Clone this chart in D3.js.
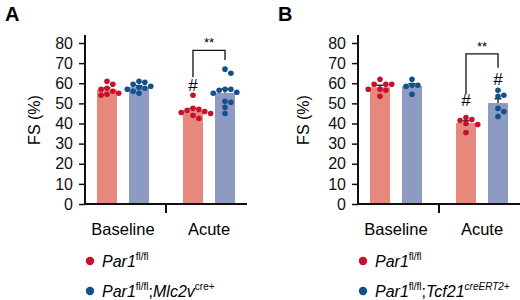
<!DOCTYPE html>
<html>
<head>
<meta charset="utf-8">
<script src="https://cdn.jsdelivr.net/npm/d3@7"></script>
<style>
  body { margin: 0; background: #fff; }
  text { font-family: Helvetica, Arial, "Liberation Sans", sans-serif; }
</style>
</head>
<body>
<script>
"use strict";
let width = 520;
let height = 300;

// categories
let conditions = ["Baseline", "Acute"];
let genotypes = ["ctrl", "ko"];
let yTicks = [0, 10, 20, 30, 40, 50, 60, 70, 80];

// FS (%) per mouse, panel A
let aBaselineCtrl = [61, 59.5, 57.5, 57, 56, 55, 54.5, 54];
let aBaselineKO = [61, 60.5, 59.5, 58.5, 58, 57.5, 57, 56, 55];
let aAcuteCtrl = [54, 47.5, 47, 46.5, 46, 45.5, 45, 44, 42.5];
let aAcuteKO = [67, 65, 56.5, 57, 57, 55, 55.5, 51, 50.5, 48, 45];

// FS (%) per mouse, panel B
let bBaselineCtrl = [62, 59.5, 59.5, 59.5, 57, 57, 56.5, 53.5];
let bBaselineKO = [62, 59, 59, 58.5, 54.5];
let bAcuteCtrl = [43, 42, 41.5, 40, 39.5, 35.5];
let bAcuteKO = [56.5, 54, 53.5, 47.5, 46, 43.5];

// annotations (in FS units)
let aHashLevels = [null, null, 59, null];
let bHashLevels = [null, null, 51.5, 62];
let aBracket = [76.3, 63, 71.5];   // top, left leg end, right leg end
let bBracket = [74.6, 54.5, 67.7];

let colours = {
  barCtrl: "#e6897c", barKO: "#8d9bc3",
  dotCtrl: "#c8102e", dotKO: "#14508c"
};

let panels = [
  { letter: "A", dx: 0, groups: [aBaselineCtrl, aBaselineKO, aAcuteCtrl, aAcuteKO],
    hash: aHashLevels, bracket: aBracket,
    ko: [{t: "Mlc2v", i: true}, {t: "cre+", sup: true}] },
  { letter: "B", dx: 273, groups: [bBaselineCtrl, bBaselineKO, bAcuteCtrl, bAcuteKO],
    hash: bHashLevels, bracket: bBracket,
    ko: [{t: "Tcf21", i: true}, {t: "creERT2+", sup: true, i: true}] }
];

let svg = d3.select("body").append("svg")
  .attr("width", width)
  .attr("height", height);

let axisX = 85;
let yScale = d3.scaleLinear().domain([0, 80]).range([204, 43]);

let outerScale = d3.scaleBand().domain(conditions).range([80, 252]);
let innerScale = d3.scaleBand().domain(genotypes)
  .range([0, outerScale.bandwidth()])
  .paddingInner(0.375)
  .paddingOuter(0.53);

let dotR = 2.8;

panels.forEach(function(p) {
  let g = svg.append("g").attr("transform", "translate(" + p.dx + ",0)");

  // panel letter
  svg.append("text")
    .attr("x", p.dx + 5)
    .attr("y", 21)
    .style("font-size", "20px")
    .style("font-weight", "bold")
    .text(p.letter);

  // table built from the arrays
  let rows = p.groups.map(function(vals, i) {
    let cond = conditions[Math.floor(i / 2)];
    let geno = genotypes[i % 2];
    let mean = d3.mean(vals);
    let sem = d3.deviation(vals) / Math.sqrt(vals.length);
    let cx = outerScale(cond) + innerScale(geno) + innerScale.bandwidth() / 2;
    return { vals: vals, cond: cond, geno: geno, mean: mean, sem: sem, cx: cx, hash: p.hash[i] };
  });

  // bars
  g.selectAll("rect.bar")
    .data(rows)
    .enter()
    .append("rect")
    .attr("class", "bar")
    .attr("x", function(d) { return outerScale(d.cond) + innerScale(d.geno); })
    .attr("y", function(d) { return yScale(d.mean); })
    .attr("width", innerScale.bandwidth())
    .attr("height", function(d) { return yScale(0) - yScale(d.mean); })
    .attr("fill", function(d) { return d.geno === "ctrl" ? colours.barCtrl : colours.barKO; });

  // error bars (upper only)
  rows.forEach(function(d) {
    let top = yScale(d.mean + d.sem);
    g.append("line")
      .attr("x1", d.cx).attr("x2", d.cx)
      .attr("y1", yScale(d.mean)).attr("y2", top)
      .attr("stroke", "#111").attr("stroke-width", 1.3);
    g.append("line")
      .attr("x1", d.cx - 3.5).attr("x2", d.cx + 3.5)
      .attr("y1", top).attr("y2", top)
      .attr("stroke", "#111").attr("stroke-width", 1.3);
  });

  // dots, simple dodge so they don't overlap
  rows.forEach(function(d) {
    let placed = [];
    let sorted = d.vals.slice().sort(function(a, b) { return b - a; });
    sorted.forEach(function(v) {
      let py = yScale(v);
      let offsets = [0];
      for (let k = 1; k < 8; k++) { offsets.push(k * dotR * 2.1, -k * dotR * 2.1); }
      let px = d.cx;
      for (let o of offsets) {
        let ok = placed.every(function(q) {
          return Math.hypot(q[0] - (d.cx + o), q[1] - py) >= dotR * 2.05;
        });
        if (ok) { px = d.cx + o; break; }
      }
      placed.push([px, py]);
    });
    g.selectAll(null)
      .data(placed)
      .enter()
      .append("circle")
      .attr("cx", function(q) { return q[0]; })
      .attr("cy", function(q) { return q[1]; })
      .attr("r", dotR)
      .attr("fill", d.geno === "ctrl" ? colours.dotCtrl : colours.dotKO);
  });

  // hash marks
  g.selectAll("text.hash")
    .data(rows.filter(function(d) { return d.hash !== null; }))
    .enter()
    .append("text")
    .attr("class", "hash")
    .attr("x", function(d) { return d.cx; })
    .attr("y", function(d) { return yScale(d.hash) + 6; })
    .attr("text-anchor", "middle")
    .style("font-size", "17px")
    .text("#");

  // significance bracket
  let left = rows[2].cx, right = rows[3].cx;
  g.append("path")
    .attr("d", "M" + left + "," + yScale(p.bracket[1]) +
               "V" + yScale(p.bracket[0]) +
               "H" + right +
               "V" + yScale(p.bracket[2]))
    .attr("fill", "none")
    .attr("stroke", "#111")
    .attr("stroke-width", 1.3);
  g.append("text")
    .attr("x", (left + right) / 2)
    .attr("y", yScale(p.bracket[0]) - 3)
    .attr("text-anchor", "middle")
    .style("font-size", "13px")
    .text("**");

  // y axis
  let yAxis = d3.axisLeft(yScale).tickValues(yTicks).tickSize(6).tickPadding(6);
  let ya = g.append("g")
    .attr("class", "axis")
    .attr("transform", "translate(" + axisX + ",0)")
    .call(yAxis);
  ya.select(".domain").remove();
  ya.selectAll(".tick line").attr("stroke", "#111").attr("stroke-width", 1.5);
  ya.selectAll(".tick text")
    .attr("fill", "#111")
    .style("font-size", "16px")
    .style("font-family", "Helvetica, Arial, 'Liberation Sans', sans-serif");
  g.append("line")
    .attr("x1", axisX).attr("x2", axisX)
    .attr("y1", 35).attr("y2", yScale(0) + 1)
    .attr("stroke", "#111").attr("stroke-width", 2);

  // x axis
  g.append("line")
    .attr("x1", axisX - 1).attr("x2", 247)
    .attr("y1", yScale(0)).attr("y2", yScale(0))
    .attr("stroke", "#111").attr("stroke-width", 2);
  let midX = outerScale("Acute");
  g.append("line")
    .attr("x1", midX).attr("x2", midX)
    .attr("y1", yScale(0) - 1).attr("y2", yScale(0) + 9)
    .attr("stroke", "#111").attr("stroke-width", 2);
  g.selectAll("text.cat")
    .data(conditions)
    .enter()
    .append("text")
    .attr("class", "cat")
    .attr("x", function(c) { return outerScale(c) + outerScale.bandwidth() / 2; })
    .attr("y", 235)
    .attr("text-anchor", "middle")
    .style("font-size", "16.5px")
    .text(function(c) { return c; });

  // y axis title
  g.append("text")
    .attr("transform", "translate(" + (p.letter === "A" ? 40 : 36) + ",120) rotate(-90)")
    .attr("text-anchor", "middle")
    .style("font-size", "16px")
    .text("FS (%)");

  // legend
  let legendRows = [
    { colour: colours.dotCtrl, parts: [{t: "Par1", i: true}, {t: "fl/fl", sup: true}] },
    { colour: colours.dotKO, parts: [{t: "Par1", i: true}, {t: "fl/fl", sup: true}, {t: ";"}].concat(p.ko) }
  ];
  legendRows.forEach(function(r, k) {
    let ly = 261 + k * 30;
    g.append("circle")
      .attr("cx", 90).attr("cy", ly).attr("r", 4.2)
      .attr("fill", r.colour);
    let t = g.append("text")
      .attr("x", 102)
      .attr("y", ly + 6)
      .style("font-size", "16px");
    let raised = false;
    r.parts.forEach(function(part) {
      let ts = t.append("tspan").text(part.t);
      if (part.i) ts.style("font-style", "italic");
      if (part.sup) {
        ts.style("font-size", "10px");
        if (!raised) { ts.attr("dy", -7); raised = true; }
      } else if (raised) {
        ts.attr("dy", 7); raised = false;
      }
    });
  });
});
</script>
</body>
</html>
